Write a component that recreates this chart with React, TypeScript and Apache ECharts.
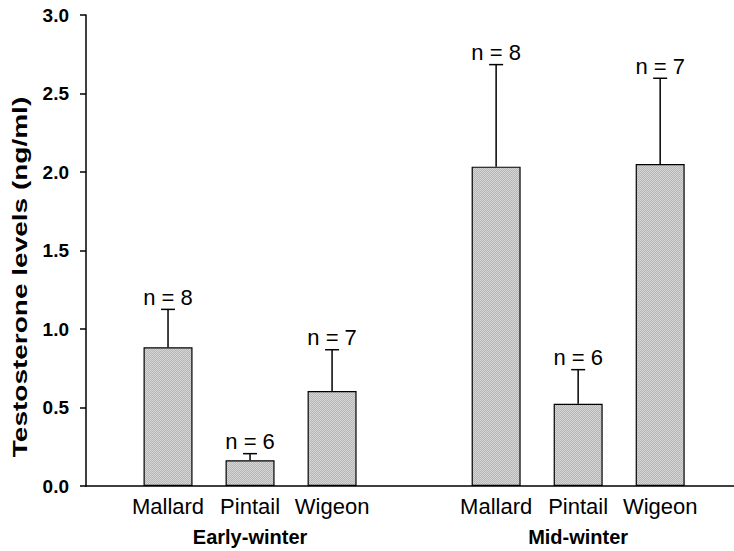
import React, { useEffect, useRef } from "react";
import * as echarts from "echarts";

const species = ["Mallard", "Pintail", "Wigeon"];
const periods = ["Early-winter", "Mid-winter"];
const earlyMeans = [0.883, 0.164, 0.605];
const earlyErr = [0.242, 0.042, 0.263];
const midMeans = [2.034, 0.524, 2.051];
const midErr = [0.65, 0.217, 0.546];
const earlyN = [8, 6, 7];
const midN = [8, 6, 7];
const yTicks = [0, 0.5, 1.0, 1.5, 2.0, 2.5, 3.0];
const yTitle = "Testosterone levels (ng/ml)";

const FONT = "Liberation Sans";

export default function App() {
  const ref = useRef<HTMLDivElement>(null);
  useEffect(() => {
    if (!ref.current) return;
    const chart = echarts.init(ref.current, undefined, { renderer: "svg" });

    const slot = (p: number, s: number) => p * (species.length + 1) + s + 1;
    const means = [earlyMeans, midMeans];
    const errs = [earlyErr, midErr];
    const ns = [earlyN, midN];
    const barData: any[] = [];
    const errData: any[] = [];
    periods.forEach((_, p) => {
      species.forEach((_, s) => {
        barData.push([slot(p, s), means[p][s]]);
        errData.push([slot(p, s), means[p][s], errs[p][s], ns[p][s]]);
      });
    });
    const speciesLabel = (v: number) => {
      const k = Math.round(v);
      if (Math.abs(v - k) > 1e-6) return "";
      const m = k % (species.length + 1);
      if (m === 0) return "";
      return species[m - 1];
    };
    const periodLabel = (v: number) => {
      for (let p = 0; p < periods.length; p++) {
        if (Math.abs(v - slot(p, 1)) < 1e-6) return periods[p];
      }
      return "";
    };

    const cv = document.createElement("canvas");
    cv.width = 2;
    cv.height = 2;
    const ctx = cv.getContext("2d")!;
    ctx.fillStyle = "#b6b6b6";
    ctx.fillRect(0, 0, 2, 2);
    ctx.fillStyle = "#d6d6d6";
    ctx.fillRect(0, 0, 1, 1);
    ctx.fillRect(1, 1, 1, 1);

    const maxX = 7.9;

    chart.setOption({
      animation: false,
      grid: { left: 86, right: 0, top: 15, bottom: 65, containLabel: false },
      xAxis: [
        {
          type: "value",
          position: "bottom",
          min: 0,
          max: maxX,
          interval: 1,
          splitLine: { show: false },
          axisTick: { show: false },
          axisLine: { show: true, lineStyle: { color: "#000", width: 1.5 } },
          axisLabel: {
            margin: 9,
            fontSize: 22,
            fontFamily: FONT,
            color: "#000",
            showMaxLabel: false,
            formatter: speciesLabel,
          },
        },
        {
          type: "value",
          position: "bottom",
          offset: 0,
          min: 0,
          max: maxX,
          interval: 1,
          splitLine: { show: false },
          axisTick: { show: false },
          axisLine: { show: false },
          axisLabel: {
            margin: 41,
            fontSize: 20,
            fontWeight: "bold",
            fontFamily: FONT,
            color: "#000",
            showMaxLabel: false,
            formatter: periodLabel,
          },
        },
      ],
      yAxis: {
        type: "value",
        min: yTicks[0],
        max: yTicks[yTicks.length - 1],
        interval: 0.5,
        splitLine: { show: false },
        axisLine: { show: true, lineStyle: { color: "#000", width: 1.5 } },
        axisTick: { show: true, length: 6, lineStyle: { color: "#000", width: 1.5 } },
        axisLabel: {
          margin: 17,
          fontSize: 19,
          fontWeight: "bold",
          fontFamily: FONT,
          color: "#000",
          formatter: (v: number) => v.toFixed(1),
        },
      },
      graphic: [
        {
          type: "text",
          x: 20,
          y: 277,
          rotation: Math.PI / 2,
          scaleX: 1.4,
          style: {
            text: yTitle,
            fontSize: 20,
            fontWeight: "bold",
            fontFamily: FONT,
            fill: "#000",
            textAlign: "center",
            textVerticalAlign: "middle",
          },
        },
      ],
      series: [
        {
          type: "bar",
          xAxisIndex: 0,
          data: barData,
          barWidth: 49,
          itemStyle: {
            color: { image: cv, repeat: "repeat" },
            borderColor: "#000",
            borderWidth: 1.2,
          },
          z: 2,
        },
        {
          type: "custom",
          xAxisIndex: 0,
          data: errData,
          z: 3,
          renderItem: (params: any, api: any) => {
            const x = api.value(0);
            const m = api.value(1);
            const e = api.value(2);
            const n = api.value(3);
            const p0 = api.coord([x, m]);
            const p1 = api.coord([x, m + e]);
            const cap = 7;
            return {
              type: "group",
              children: [
                {
                  type: "line",
                  shape: { x1: p0[0], y1: p0[1], x2: p1[0], y2: p1[1] },
                  style: { stroke: "#000", lineWidth: 1.5 },
                },
                {
                  type: "line",
                  shape: { x1: p1[0] - cap, y1: p1[1], x2: p1[0] + cap, y2: p1[1] },
                  style: { stroke: "#000", lineWidth: 1.5 },
                },
                {
                  type: "text",
                  x: p1[0],
                  y: p1[1] - 1,
                  style: {
                    text: "n = " + n,
                    fontSize: 22,
                    fontFamily: FONT,
                    fill: "#000",
                    textAlign: "center",
                    textVerticalAlign: "bottom",
                  },
                },
              ],
            };
          },
        },
      ],
    });
    return () => chart.dispose();
  }, []);
  return (
    <div
      ref={ref}
      style={{ position: "absolute", left: 0, top: 0, width: 734, height: 551, background: "#fff" }}
    />
  );
}
